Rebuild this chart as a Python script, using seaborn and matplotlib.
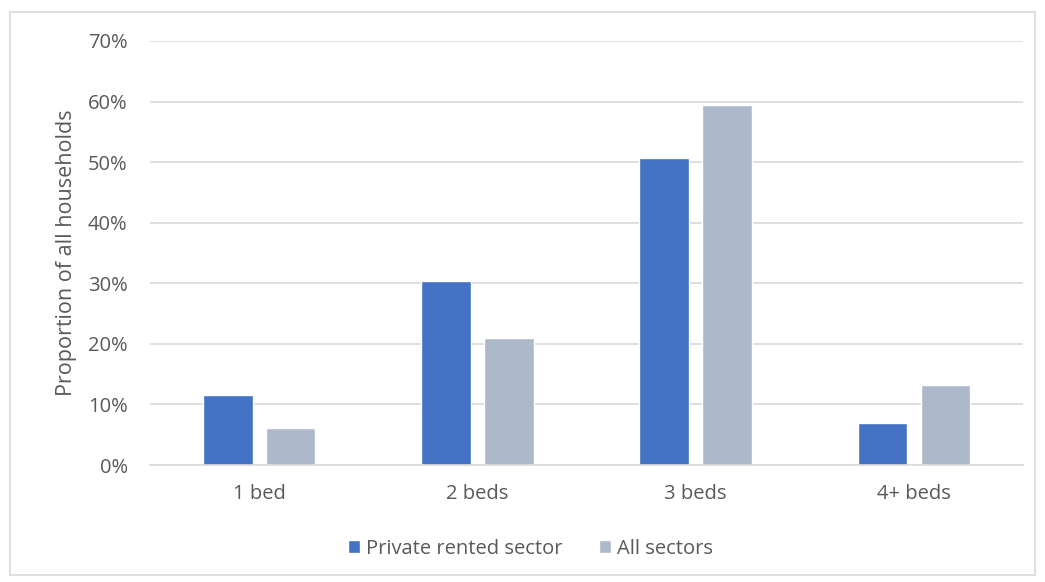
import matplotlib
matplotlib.use("Agg")
import matplotlib.pyplot as plt
import seaborn as sns
import pandas as pd
from matplotlib.patches import Rectangle
from matplotlib.ticker import PercentFormatter

categories = ["1 bed", "2 beds", "3 beds", "4+ beds"]
private_rented = [11.5, 30.4, 50.7, 6.9]
all_sectors = [6.1, 21.0, 59.4, 13.2]
series_names = ["Private rented sector", "All sectors"]
colors = ["#4472C4", "#ADB9CA"]

df = pd.DataFrame({
    "Bedrooms": categories * 2,
    "Value": private_rented + all_sectors,
    "Series": [series_names[0]] * 4 + [series_names[1]] * 4,
})

sns.set_theme(style="white")
plt.rcParams["font.family"] = ["Open Sans", "DejaVu Sans"]
text_color = "#595959"

fig = plt.figure(figsize=(10.45, 5.82), dpi=100)
ax = fig.add_axes([0.1435, 0.201, 0.8355, 0.7286])

sns.barplot(data=df, x="Bedrooms", y="Value", hue="Series", palette=colors,
            width=0.575, gap=0.21, ax=ax, saturation=1, errorbar=None)

ax.set_ylim(0, 70)
ax.set_yticks(range(0, 71, 10))
ax.yaxis.set_major_formatter(PercentFormatter(decimals=0))
ax.grid(axis="y", color="#D9D9D9", linewidth=1.2)
ax.set_axisbelow(True)
for s in ["top", "right", "left"]:
    ax.spines[s].set_visible(False)
ax.spines["bottom"].set_color("#D9D9D9")
ax.spines["bottom"].set_linewidth(1.2)
ax.tick_params(axis="both", length=0, labelsize=14.5, colors=text_color)
ax.tick_params(axis="y", pad=16)
ax.tick_params(axis="x", pad=14)
ax.set_xlabel("")
ax.set_ylabel("Proportion of all households", fontsize=15.5, color=text_color, labelpad=8)

leg = ax.legend(loc="center", bbox_to_anchor=(0.508, 0.057), bbox_transform=fig.transFigure,
                ncol=2, frameon=False, fontsize=14.5, handlelength=0.6, handleheight=0.6,
                handletextpad=0.3, columnspacing=1.8)
for t in leg.get_texts():
    t.set_color(text_color)

fig.patches.append(Rectangle((10 / 1045, 7 / 582), 1025 / 1045, 563 / 582,
                             transform=fig.transFigure, fill=False,
                             edgecolor="#D9D9D9", linewidth=1.2))

fig.savefig("out.png", dpi=100)
